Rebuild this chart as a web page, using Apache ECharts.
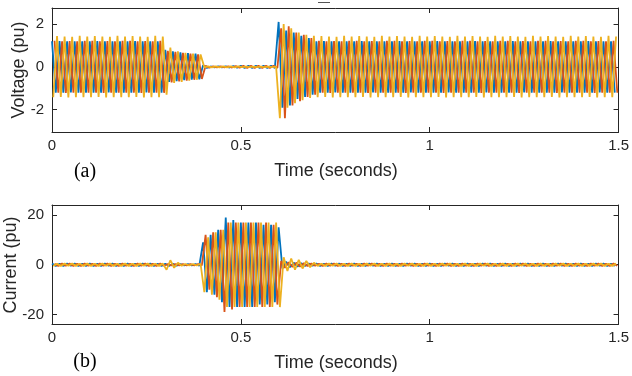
<!DOCTYPE html>
<html>
<head>
<meta charset="utf-8">
<script src="https://cdn.jsdelivr.net/npm/echarts@6/dist/echarts.min.js"></script>
<style>html,body{margin:0;padding:0;background:#fff}#c{width:632px;height:376px}</style>
</head>
<body>
<div id="c"></div>
<script>
// sampling grid (extremes of each phase every half-cycle)
const sampleStep = 0.01;
const phaseOffsets = [0, 0.00667, 0.00333];
const xTicks = [0, 0.5, 1, 1.5];
const voltageTicks = [-2, 0, 2];
const currentTicks = [-20, 0, 20];

// (a) Voltage (pu)
const voltageA = [
1.2,-1.2,1.21,-1.2,1.2,-1.19,1.2,-1.21,1.19,-1.2,
1.2,-1.2,1.21,-1.2,1.2,-1.19,1.2,-1.21,1.19,-1.2,
1.2,-1.2,1.21,-1.2,1.2,-1.19,1.2,-1.21,1.19,-1.2,
0.8,-0.7,0.72,-0.66,0.68,-0.62,0.64,-0.6,0.62,-0.58,
0.08,-0.05,0.02,-0.02,0.02,-0.02,0.03,-0.03,0.04,-0.04,
0.05,-0.05,0.05,-0.05,0.05,-0.05,0.05,-0.05,0.05,-0.05,
2.1,-1.9,1.7,-1.8,1.6,-1.5,1.45,-1.4,1.35,-1.3,
1.2,-1.2,1.21,-1.2,1.2,-1.19,1.2,-1.21,1.19,-1.2,
1.2,-1.2,1.21,-1.2,1.2,-1.19,1.2,-1.21,1.19,-1.2,
1.2,-1.2,1.21,-1.2,1.2,-1.19,1.2,-1.21,1.19,-1.2,
1.2,-1.2,1.21,-1.2,1.2,-1.19,1.2,-1.21,1.19,-1.2,
1.2,-1.2,1.21,-1.2,1.2,-1.19,1.2,-1.21,1.19,-1.2,
1.2,-1.2,1.21,-1.2,1.2,-1.19,1.2,-1.21,1.19,-1.2,
1.2,-1.2,1.21,-1.2,1.2,-1.19,1.2,-1.21,1.19,-1.2,
1.2,-1.2,1.21,-1.2,1.2,-1.19,1.2,-1.21,1.19,-1.2
];
const voltageB = [
1.22,-1.2,1.2,-1.22,1.21,-1.2,1.2,-1.2,1.22,-1.21,
1.22,-1.2,1.2,-1.22,1.21,-1.2,1.2,-1.2,1.22,-1.21,
1.22,-1.2,1.2,-1.22,1.21,-1.2,1.2,-1.2,1.22,-1.21,
0.75,-0.72,0.7,-0.68,0.66,-0.64,0.62,-0.6,0.58,-0.56,
0.05,-0.04,0.02,-0.02,0.02,-0.02,0.03,-0.03,0.04,-0.04,
0.05,-0.05,0.05,-0.05,0.05,-0.05,0.05,-0.05,0.05,-0.05,
1.8,-2.4,1.9,-1.8,1.6,-1.6,1.5,-1.4,1.35,-1.3,
1.22,-1.2,1.2,-1.22,1.21,-1.2,1.2,-1.2,1.22,-1.21,
1.22,-1.2,1.2,-1.22,1.21,-1.2,1.2,-1.2,1.22,-1.21,
1.22,-1.2,1.2,-1.22,1.21,-1.2,1.2,-1.2,1.22,-1.21,
1.22,-1.2,1.2,-1.22,1.21,-1.2,1.2,-1.2,1.22,-1.21,
1.22,-1.2,1.2,-1.22,1.21,-1.2,1.2,-1.2,1.22,-1.21,
1.22,-1.2,1.2,-1.22,1.21,-1.2,1.2,-1.2,1.22,-1.21,
1.22,-1.2,1.2,-1.22,1.21,-1.2,1.2,-1.2,1.22,-1.21,
1.22,-1.2,1.2,-1.22,1.21,-1.2,1.2,-1.2,1.22,-1.21
];
const voltageC = [
-1.42,1.44,-1.4,1.42,-1.43,1.4,-1.42,1.45,-1.41,1.42,
-1.42,1.44,-1.4,1.42,-1.43,1.4,-1.42,1.45,-1.41,1.42,
-1.42,1.44,-1.4,1.42,-1.43,1.4,-1.42,1.45,-1.41,1.42,
-1.3,0.9,-0.75,0.72,-0.7,0.66,-0.64,0.62,-0.6,0.58,
-0.02,0.02,-0.02,0.02,-0.02,0.02,-0.02,0.02,-0.02,0.02,
-0.01,0.01,-0.01,0.01,-0.01,0.01,-0.01,0.01,-0.01,0.01,
-2.4,2.0,-1.9,1.8,-1.7,1.6,-1.55,1.5,-1.45,1.45,
-1.42,1.44,-1.4,1.42,-1.43,1.4,-1.42,1.45,-1.41,1.42,
-1.42,1.44,-1.4,1.42,-1.43,1.4,-1.42,1.45,-1.41,1.42,
-1.42,1.44,-1.4,1.42,-1.43,1.4,-1.42,1.45,-1.41,1.42,
-1.42,1.44,-1.4,1.42,-1.43,1.4,-1.42,1.45,-1.41,1.42,
-1.42,1.44,-1.4,1.42,-1.43,1.4,-1.42,1.45,-1.41,1.42,
-1.42,1.44,-1.4,1.42,-1.43,1.4,-1.42,1.45,-1.41,1.42,
-1.42,1.44,-1.4,1.42,-1.43,1.4,-1.42,1.45,-1.41,1.42,
-1.42,1.44,-1.4,1.42,-1.43,1.4,-1.42,1.45,-1.41,1.42
];

// (b) Current (pu)
const currentA = [
0.45,-0.45,0.4,-0.45,0.45,-0.4,0.45,-0.45,0.4,-0.45,
0.45,-0.45,0.4,-0.45,0.45,-0.4,0.45,-0.45,0.4,-0.45,
0.45,-0.45,0.4,-0.45,0.45,-0.4,0.45,-0.45,0.4,-0.45,
0.4,-0.5,0.4,-0.4,0.3,-0.3,0.3,-0.3,0.3,-0.4,
9,-11,12,-12,14,-15,19,-17,18,-17,
17,-17,17,-17,17,-16,16,-16,16,-15,
15,-1.5,1.2,-1,0.8,-0.7,0.6,-0.5,0.5,-0.4,
0.45,-0.45,0.4,-0.45,0.45,-0.4,0.45,-0.45,0.4,-0.45,
0.45,-0.45,0.4,-0.45,0.45,-0.4,0.45,-0.45,0.4,-0.45,
0.45,-0.45,0.4,-0.45,0.45,-0.4,0.45,-0.45,0.4,-0.45,
0.45,-0.45,0.4,-0.45,0.45,-0.4,0.45,-0.45,0.4,-0.45,
0.45,-0.45,0.4,-0.45,0.45,-0.4,0.45,-0.45,0.4,-0.45,
0.45,-0.45,0.4,-0.45,0.45,-0.4,0.45,-0.45,0.4,-0.45,
0.45,-0.45,0.4,-0.45,0.45,-0.4,0.45,-0.45,0.4,-0.45,
0.45,-0.45,0.4,-0.45,0.45,-0.4,0.45,-0.45,0.4,-0.45
];
const currentB = [
0.4,-0.45,0.45,-0.4,0.45,-0.45,0.4,-0.45,0.45,-0.4,
0.4,-0.45,0.45,-0.4,0.45,-0.45,0.4,-0.45,0.45,-0.4,
0.4,-0.45,0.45,-0.4,0.45,-0.45,0.4,-0.45,0.45,-0.4,
0.3,-0.3,0.3,-0.3,0.3,-0.3,0.3,-0.3,0.3,-0.3,
12,-10,13,-13,14,-19,17,-18,17,-17,
17,-17,17,-17,17,-17,17,-17,16,-16,
1.5,-1.2,1,-0.9,0.8,-0.7,0.6,-0.5,0.5,-0.4,
0.4,-0.45,0.45,-0.4,0.45,-0.45,0.4,-0.45,0.45,-0.4,
0.4,-0.45,0.45,-0.4,0.45,-0.45,0.4,-0.45,0.45,-0.4,
0.4,-0.45,0.45,-0.4,0.45,-0.45,0.4,-0.45,0.45,-0.4,
0.4,-0.45,0.45,-0.4,0.45,-0.45,0.4,-0.45,0.45,-0.4,
0.4,-0.45,0.45,-0.4,0.45,-0.45,0.4,-0.45,0.45,-0.4,
0.4,-0.45,0.45,-0.4,0.45,-0.45,0.4,-0.45,0.45,-0.4,
0.4,-0.45,0.45,-0.4,0.45,-0.45,0.4,-0.45,0.45,-0.4,
0.4,-0.45,0.45,-0.4,0.45,-0.45,0.4,-0.45,0.45,-0.4
];
const currentC = [
-0.45,0.4,-0.45,0.45,-0.4,0.45,-0.45,0.4,-0.45,0.45,
-0.45,0.4,-0.45,0.45,-0.4,0.45,-0.45,0.4,-0.45,0.45,
-0.45,0.4,-0.45,0.45,-0.4,0.45,-0.45,0.4,-0.45,0.45,
-2,1.8,-1.2,0.8,-0.4,0.3,-0.3,0.3,-0.3,0.4,
-11,11,-12,13,-14,14,-17,17,-17,17,
-17,17,-17,17,-17,17,-17,17,-17,17,
-17,3,-2.5,2.5,-2,2,-1.5,1.5,-1,0.8,
-0.45,0.4,-0.45,0.45,-0.4,0.45,-0.45,0.4,-0.45,0.45,
-0.45,0.4,-0.45,0.45,-0.4,0.45,-0.45,0.4,-0.45,0.45,
-0.45,0.4,-0.45,0.45,-0.4,0.45,-0.45,0.4,-0.45,0.45,
-0.45,0.4,-0.45,0.45,-0.4,0.45,-0.45,0.4,-0.45,0.45,
-0.45,0.4,-0.45,0.45,-0.4,0.45,-0.45,0.4,-0.45,0.45,
-0.45,0.4,-0.45,0.45,-0.4,0.45,-0.45,0.4,-0.45,0.45,
-0.45,0.4,-0.45,0.45,-0.4,0.45,-0.45,0.4,-0.45,0.45,
-0.45,0.4,-0.45,0.45,-0.4,0.45,-0.45,0.4,-0.45,0.45
];

const colors = ['#0072BD', '#D95319', '#EDB120'];
const axisColor = '#262626';
const tickFont = 15;

function toPoints(values, offset) {
  return values.map((v, i) => [offset + i * sampleStep, v]);
}

function xAxisPair(gridIndex, showLabel) {
  const base = {
    gridIndex, type: 'value', min: 0, max: 1.5,
    axisLine: { show: true, onZero: false, lineStyle: { color: axisColor, width: 1 } },
    axisTick: { show: true, inside: true, length: 5, customValues: xTicks, lineStyle: { color: axisColor } },
    splitLine: { show: false }
  };
  return [
    Object.assign({}, base, { position: 'bottom',
      axisLabel: { show: showLabel, customValues: xTicks, fontSize: tickFont, color: axisColor, margin: 6, fontFamily: 'Liberation Sans',
        formatter: v => String(v) } }),
    Object.assign({}, base, { position: 'top', axisLabel: { show: false } })
  ];
}
function yAxisPair(gridIndex, min, max, ticks) {
  const base = {
    gridIndex, type: 'value', min, max,
    axisLine: { show: true, onZero: false, lineStyle: { color: axisColor, width: 1 } },
    axisTick: { show: true, inside: true, length: 5, customValues: ticks, lineStyle: { color: axisColor } },
    splitLine: { show: false }
  };
  return [
    Object.assign({}, base, { position: 'left',
      axisLabel: { customValues: ticks, fontSize: tickFont, color: axisColor, margin: 8, fontFamily: 'Liberation Sans',
        formatter: v => String(v) } }),
    Object.assign({}, base, { position: 'right', axisLabel: { show: false } })
  ];
}

const lineSeries = (data, offset, color, xi, yi) => ({
  type: 'line', data: toPoints(data, offset), xAxisIndex: xi, yAxisIndex: yi,
  showSymbol: false, symbol: 'none', lineStyle: { color, width: 1.8 }, itemStyle: { color },
  animation: false, clip: true
});

const chart = echarts.init(document.getElementById('c'), null, { renderer: 'canvas' });
chart.setOption({
  animation: false,
  backgroundColor: '#ffffff',
  grid: [
    { left: 52, top: 8, width: 568, height: 124 },
    { left: 52, top: 205, width: 568, height: 119 }
  ],
  xAxis: [...xAxisPair(0, true), ...xAxisPair(1, true)],
  yAxis: [...yAxisPair(0, -3.04, 2.75, voltageTicks), ...yAxisPair(1, -23.8, 24, currentTicks)],
  series: [
    lineSeries(voltageA, phaseOffsets[0], colors[0], 0, 0),
    lineSeries(voltageB, phaseOffsets[1], colors[1], 0, 0),
    lineSeries(voltageC, phaseOffsets[2], colors[2], 0, 0),
    lineSeries(currentA, phaseOffsets[0], colors[0], 2, 2),
    lineSeries(currentB, phaseOffsets[1], colors[1], 2, 2),
    lineSeries(currentC, phaseOffsets[2], colors[2], 2, 2)
  ],
  graphic: [
    { type: 'text', x: 19, y: 70, rotation: Math.PI / 2,
      style: { text: 'Voltage (pu)', font: '18px "Liberation Sans"', fill: axisColor, align: 'center', verticalAlign: 'middle' } },
    { type: 'text', x: 11, y: 265, rotation: Math.PI / 2,
      style: { text: 'Current (pu)', font: '18px "Liberation Sans"', fill: axisColor, align: 'center', verticalAlign: 'middle' } },
    { type: 'text', x: 336, y: 171,
      style: { text: 'Time (seconds)', font: '18px "Liberation Sans"', fill: axisColor, align: 'center', verticalAlign: 'middle' } },
    { type: 'text', x: 336, y: 363,
      style: { text: 'Time (seconds)', font: '18px "Liberation Sans"', fill: axisColor, align: 'center', verticalAlign: 'middle' } },
    { type: 'text', x: 85, y: 172,
      style: { text: '(a)', font: '20px "Liberation Serif"', fill: '#000', align: 'center', verticalAlign: 'middle' } },
    { type: 'text', x: 85, y: 362,
      style: { text: '(b)', font: '20px "Liberation Serif"', fill: '#000', align: 'center', verticalAlign: 'middle' } },
    { type: 'rect', shape: { x: 318, y: 2, width: 12, height: 1 }, style: { fill: '#555' } }
  ]
});
</script>
</body>
</html>
